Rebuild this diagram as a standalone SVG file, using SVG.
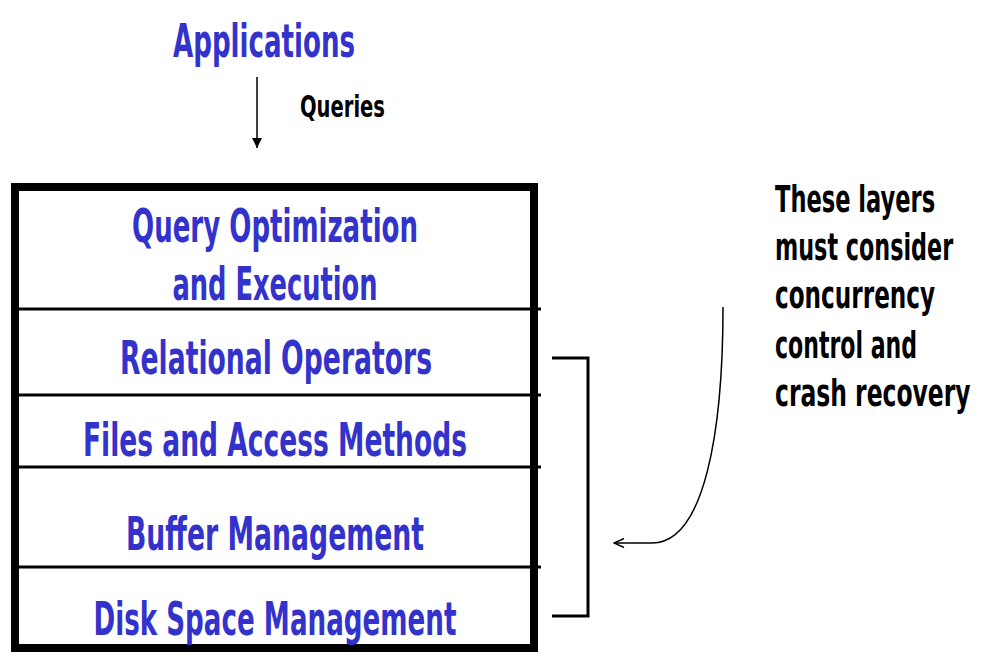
<svg xmlns="http://www.w3.org/2000/svg" width="986" height="666" viewBox="0 0 986 666">
  <style>
    .t { font-family: "Liberation Sans Narrow", "DejaVu Sans Condensed", "Liberation Sans", sans-serif; font-weight: bold; font-stretch: condensed; }
    .blue { fill: #3333cc; font-size: 46px; }
    .black { fill: #000000; }
    .rule { stroke: #000; stroke-width: 3; fill: none; }
  </style>
  <defs>
    <marker id="solidHead" viewBox="0 0 10 10" refX="10" refY="5" markerWidth="10" markerHeight="10" markerUnits="userSpaceOnUse" orient="auto">
      <path d="M0,0 L10,5 L0,10 z" fill="#000"/>
    </marker>
    <marker id="openHead" viewBox="0 0 12 10" refX="11" refY="5" markerWidth="12" markerHeight="10" markerUnits="userSpaceOnUse" orient="auto">
      <path d="M1,0.5 L11,5 L1,9.5" fill="none" stroke="#000" stroke-width="1.5"/>
    </marker>
  </defs>
  <rect width="986" height="666" fill="#fff"/>

  <g id="applications">
    <text class="t blue" x="264" y="57" text-anchor="middle" textLength="182" lengthAdjust="spacingAndGlyphs">Applications</text>
  </g>

  <g id="queries-label">
    <text class="t black" x="300" y="117" font-size="30" textLength="85" lengthAdjust="spacingAndGlyphs">Queries</text>
  </g>

  <g id="layer-stack">
    <rect x="15" y="187" width="519" height="461" fill="#fff" stroke="#000" stroke-width="8"/>
    <g class="rule">
      <line x1="15" y1="309" x2="541" y2="309"/>
      <line x1="15" y1="395" x2="541" y2="395"/>
      <line x1="15" y1="467" x2="541" y2="467"/>
      <line x1="15" y1="567" x2="541" y2="567"/>
    </g>
  </g>

  <g id="query-optimization">
    <text class="t blue" x="275" y="242" text-anchor="middle" textLength="286" lengthAdjust="spacingAndGlyphs">Query Optimization</text>
    <text class="t blue" x="275" y="300" text-anchor="middle" textLength="205" lengthAdjust="spacingAndGlyphs">and Execution</text>
  </g>
  <g id="relational-operators">
    <text class="t blue" x="276" y="374" text-anchor="middle" textLength="312" lengthAdjust="spacingAndGlyphs">Relational Operators</text>
  </g>
  <g id="files-access-methods">
    <text class="t blue" x="275" y="456" text-anchor="middle" textLength="384" lengthAdjust="spacingAndGlyphs">Files and Access Methods</text>
  </g>
  <g id="buffer-management">
    <text class="t blue" x="275" y="550" text-anchor="middle" textLength="298" lengthAdjust="spacingAndGlyphs">Buffer Management</text>
  </g>
  <g id="disk-space-management">
    <text class="t blue" x="275" y="635" text-anchor="middle" textLength="363" lengthAdjust="spacingAndGlyphs">Disk Space Management</text>
  </g>

  <!-- side note, narrowed horizontally so each line keeps its printed width -->
  <g id="note">
    <g class="t black" font-size="38" transform="translate(775 0) scale(0.67 1)">
      <text x="0" y="212" textLength="239" lengthAdjust="spacingAndGlyphs">These layers</text>
      <text x="0" y="260" textLength="266" lengthAdjust="spacingAndGlyphs">must consider</text>
      <text x="0" y="308" textLength="239" lengthAdjust="spacingAndGlyphs">concurrency</text>
      <text x="0" y="358" textLength="212" lengthAdjust="spacingAndGlyphs">control and</text>
      <text x="0" y="406" textLength="292" lengthAdjust="spacingAndGlyphs">crash recovery</text>
    </g>
  </g>

  <g id="connectors">
    <line x1="257" y1="77" x2="257" y2="148" stroke="#000" stroke-width="1.5" marker-end="url(#solidHead)"/>
    <path d="M552,358 H588 V616 H552" fill="none" stroke="#000" stroke-width="3"/>
    <path d="M723,307 C723,430 705,543 652,543 L614,543" fill="none" stroke="#000" stroke-width="1.5" marker-end="url(#openHead)"/>
  </g>
</svg>
